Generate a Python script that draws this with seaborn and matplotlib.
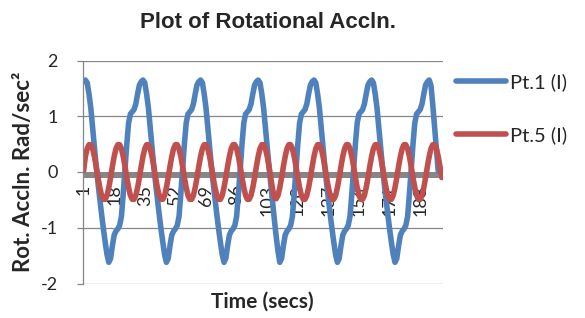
import matplotlib
matplotlib.use('Agg')
import matplotlib.pyplot as plt
import seaborn as sns

# sample numbers on the category axis and the labels Excel showed (every 17th)
sample_no = list(range(1, 201))
tick_labels = ['1', '18', '35', '52', '69', '86', '103', '120', '137', '154', '171', '188']

# Pt.1 (I), line stops a few samples before the end
pt1 = [
    1.62, 1.65, 1.60, 1.40, 1.15, 0.80, 0.45, 0.10, -0.20, -0.48, -0.76, -1.02, -1.26, -1.48, -1.62, -1.55,
    -1.32, -1.13, -1.06, -1.02, -0.96, -0.80, -0.40, 0.05, 0.50, 0.88, 1.04, 1.08, 1.12, 1.22, 1.40, 1.56,
    1.62, 1.65, 1.60, 1.40, 1.15, 0.80, 0.45, 0.10, -0.20, -0.48, -0.76, -1.02, -1.26, -1.48, -1.62, -1.55,
    -1.32, -1.13, -1.06, -1.02, -0.96, -0.80, -0.40, 0.05, 0.50, 0.88, 1.04, 1.08, 1.12, 1.22, 1.40, 1.56,
    1.62, 1.65, 1.60, 1.40, 1.15, 0.80, 0.45, 0.10, -0.20, -0.48, -0.76, -1.02, -1.26, -1.48, -1.62, -1.55,
    -1.32, -1.13, -1.06, -1.02, -0.96, -0.80, -0.40, 0.05, 0.50, 0.88, 1.04, 1.08, 1.12, 1.22, 1.40, 1.56,
    1.62, 1.65, 1.60, 1.40, 1.15, 0.80, 0.45, 0.10, -0.22, -0.54, -0.86, -1.16, -1.42, -1.62,
    -1.55, -1.32, -1.13, -1.06, -1.02, -0.96, -0.80, -0.40, 0.05, 0.50, 0.88, 1.04, 1.08, 1.12, 1.22, 1.40, 1.56,
    1.62, 1.65, 1.60, 1.40, 1.15, 0.80, 0.45, 0.10, -0.20, -0.48, -0.76, -1.02, -1.26, -1.48, -1.62, -1.55,
    -1.32, -1.13, -1.06, -1.02, -0.96, -0.80, -0.40, 0.05, 0.50, 0.88, 1.04, 1.08, 1.12, 1.22, 1.40, 1.56,
    1.62, 1.65, 1.60, 1.40, 1.15, 0.80, 0.45, 0.10, -0.20, -0.48, -0.76, -1.02, -1.26, -1.48, -1.62, -1.55,
    -1.32, -1.13, -1.06, -1.02, -0.96, -0.80, -0.40, 0.05, 0.50, 0.88, 1.04, 1.08, 1.12, 1.22, 1.40, 1.56,
    1.62, 1.65, 1.55, 1.20, 0.80, 0.40, 0.02,
]

# Pt.5 (I)
pt5 = [
    0.02, 0.28, 0.42, 0.49, 0.49, 0.42, 0.28, 0.10, -0.10, -0.28, -0.42, -0.49, -0.49, -0.42, -0.28, -0.10,
    0.10, 0.28, 0.42, 0.49, 0.49, 0.42, 0.28, 0.10, -0.10, -0.28, -0.42, -0.49, -0.49, -0.42, -0.28, -0.10,
    0.10, 0.28, 0.42, 0.49, 0.49, 0.42, 0.28, 0.10, -0.10, -0.28, -0.42, -0.49, -0.49, -0.42, -0.28, -0.10,
    0.10, 0.28, 0.42, 0.49, 0.49, 0.42, 0.28, 0.10, -0.10, -0.28, -0.42, -0.49, -0.49, -0.42, -0.28, -0.10,
    0.10, 0.28, 0.42, 0.49, 0.49, 0.42, 0.28, 0.10, -0.10, -0.28, -0.42, -0.49, -0.49, -0.42, -0.28, -0.10,
    0.10, 0.28, 0.42, 0.49, 0.49, 0.42, 0.28, 0.10, -0.10, -0.28, -0.42, -0.49, -0.49, -0.42, -0.28, -0.10,
    0.10, 0.28, 0.42, 0.49, 0.49, 0.42, 0.28, 0.10, -0.10,
    -0.31, -0.46, -0.48, -0.42, -0.28, -0.10,
    0.10, 0.28, 0.42, 0.49, 0.49, 0.42, 0.28, 0.10, -0.10, -0.28, -0.42, -0.49, -0.49, -0.42, -0.28, -0.10,
    0.10, 0.28, 0.42, 0.49, 0.49, 0.42, 0.28, 0.10, -0.10, -0.28, -0.42, -0.49, -0.49, -0.42, -0.28, -0.10,
    0.10, 0.28, 0.42, 0.49, 0.49, 0.42, 0.28, 0.10, -0.10, -0.28, -0.42, -0.49, -0.49, -0.42, -0.28, -0.10,
    0.10, 0.28, 0.42, 0.49, 0.49, 0.42, 0.28, 0.10, -0.10, -0.28, -0.42, -0.49, -0.49, -0.42, -0.28, -0.10,
    0.10, 0.28, 0.42, 0.49, 0.49, 0.42, 0.28, 0.10, -0.10, -0.28, -0.42, -0.49, -0.49, -0.42, -0.28, -0.10,
    0.10, 0.28, 0.42, 0.49, 0.49, 0.42, 0.28, 0.10, -0.10,
]

sns.set_style('white')
plt.rcParams['font.family'] = ['Lato', 'DejaVu Sans']

W, H = 585, 318
fig = plt.figure(figsize=(W / 100, H / 100), dpi=100)
ax = fig.add_axes([82.7 / W, 1 - 283.5 / H, 360 / W, 223 / H])

grey = '#868686'
for yv in [-2, -1, 1, 2]:
    ax.axhline(yv, color=grey, lw=0.9, zorder=1)
# thick category axis sitting just under zero
ax.axhline(-0.054, color=grey, lw=4.3, zorder=1)

# series under the axis labels (axis artists draw at 2.5)
sns.lineplot(x=sample_no[:len(pt1)], y=pt1, ax=ax, color='#4F81BD', lw=4,
             label='Pt.1 (I)', zorder=2, solid_capstyle='round')
sns.lineplot(x=sample_no[:len(pt5)], y=pt5, ax=ax, color='#C0504D', lw=4,
             label='Pt.5 (I)', zorder=2.1, solid_capstyle='round')

ax.set_xlim(0.5, 200.5)
ax.set_ylim(-2, 2)
# category axis crosses the value axis at 0, labels hang below it
ax.spines['bottom'].set_position(('data', 0))
ax.spines['bottom'].set_visible(False)
ax.set_xticks([int(t) for t in tick_labels])
ax.set_xticklabels(tick_labels, rotation=90, fontsize=13)
ax.tick_params(axis='x', length=0, pad=9, bottom=True)
ax.set_yticks([-2, -1, 0, 1, 2])
ax.set_yticklabels(['-2', '-1', '0', '1', '2'], fontsize=13)
ax.tick_params(axis='y', length=4, width=0.9, color=grey, pad=14, left=True)
for s in ['top', 'right']:
    ax.spines[s].set_visible(False)
ax.spines['left'].set_color(grey)
ax.spines['left'].set_linewidth(0.9)
ax.set_xlabel('')
ax.set_ylabel('')

fig.text(267.7 / W, 1 - 23 / H, 'Plot of Rotational Accln.', ha='center', va='center',
         fontsize=16, fontweight='bold', family=['Liberation Sans', 'DejaVu Sans'])
fig.text(24 / W, 1 - 172 / H, 'Rot. Accln. Rad/sec²', rotation=90, ha='center', va='center',
         fontsize=16, fontweight='bold')
fig.text(262 / W, 1 - 302 / H, 'Time (secs)', ha='center', va='center',
         fontsize=15, fontweight='bold')

ax.legend(loc='upper left', bbox_to_anchor=(456 / W, 1 - 73 / H), bbox_transform=fig.transFigure,
          frameon=False, fontsize=14.5, handlelength=2.5, handletextpad=0.2, labelspacing=1.75,
          borderpad=0, borderaxespad=0)

fig.savefig('out.png', dpi=100)
